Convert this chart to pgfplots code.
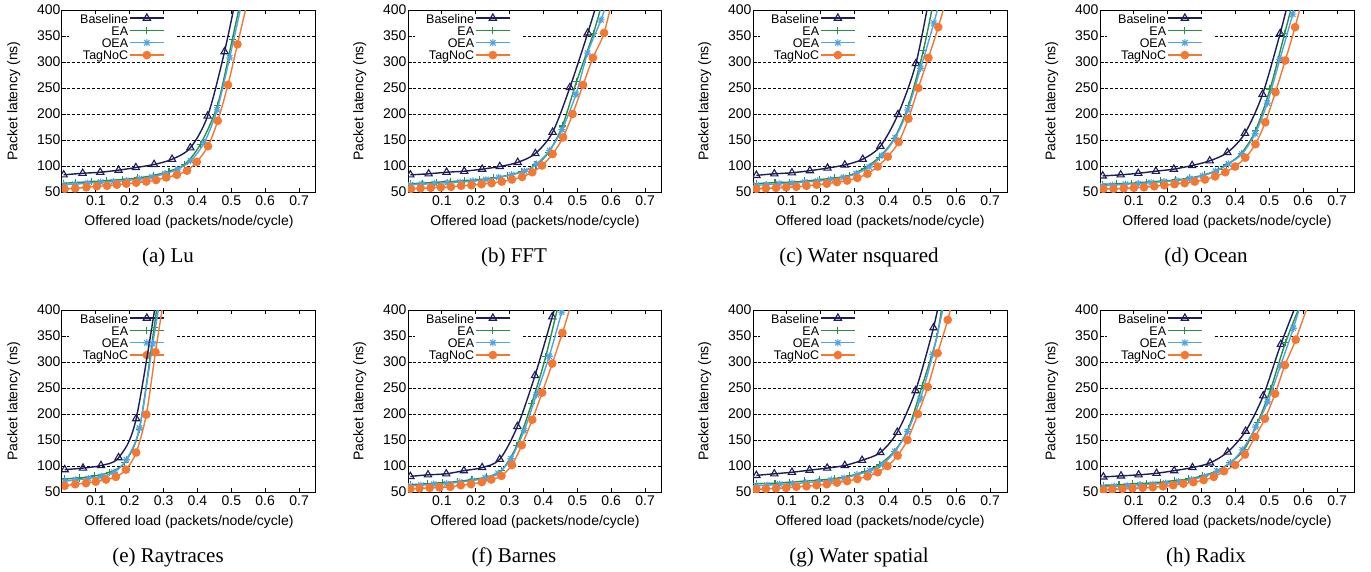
\documentclass[border=0pt]{standalone}
\usepackage{fontspec}
\setmainfont{Liberation Sans}
\newfontfamily\capfont{Liberation Serif}
\usepackage{pgfplots}
\pgfplotsset{compat=1.18}

\definecolor{cbase}{RGB}{28,28,88}
\definecolor{cea}{RGB}{38,145,70}
\definecolor{coea}{RGB}{80,165,225}
\definecolor{ctag}{RGB}{245,120,50}

\pgfdeclareplotmark{gpstar}{%
  \pgfpathmoveto{\pgfqpoint{-\pgfplotmarksize}{0pt}}\pgfpathlineto{\pgfqpoint{\pgfplotmarksize}{0pt}}%
  \pgfpathmoveto{\pgfqpoint{0pt}{-\pgfplotmarksize}}\pgfpathlineto{\pgfqpoint{0pt}{\pgfplotmarksize}}%
  \pgfpathmoveto{\pgfqpoint{-0.75\pgfplotmarksize}{-0.75\pgfplotmarksize}}\pgfpathlineto{\pgfqpoint{0.75\pgfplotmarksize}{0.75\pgfplotmarksize}}%
  \pgfpathmoveto{\pgfqpoint{-0.75\pgfplotmarksize}{0.75\pgfplotmarksize}}\pgfpathlineto{\pgfqpoint{0.75\pgfplotmarksize}{-0.75\pgfplotmarksize}}%
  \pgfusepathqstroke}

\pgfplotsset{
  layers/legendbelow/.define layer set={axis background,axis grid,axis descriptions,axis ticks,axis lines,axis tick labels,pre main,main,axis foreground}{/pgfplots/layers/standard},
  panel/.style={
    set layers=legendbelow,
    scale only axis, width=254pt, height=182pt,
    anchor=south west,
    xmin=0, xmax=0.75, ymin=50, ymax=400,
    xtick={0.1,0.2,0.3,0.4,0.5,0.6,0.7},
    ytick={50,100,150,200,250,300,350,400},
    tick align=inside, major tick length=4pt,
    /pgf/number format/assume math mode=true,
    xticklabel style={/pgf/number format/fixed, /pgf/number format/precision=1},
    yticklabel style={xshift=2pt},
    tick label style={font=\fontsize{14}{16}\selectfont},
    label style={font=\fontsize{14}{16}\selectfont},
    xlabel={Offered load (packets/node/cycle)},
    ylabel={Packet latency (ns)},
    xlabel style={at={(axis description cs:0.5,-0.165)}, anchor=center},
    ylabel style={at={(axis description cs:-0.19,0.5)}, anchor=center},
    ymajorgrids, grid style={black, dash pattern=on 3pt off 2pt, line width=0.6pt},
    axis line style={line width=1pt},
    tick style={black, line width=0.8pt},
    clip marker paths=true,
    legend cell align=right, legend plot pos=right,
    legend style={at={(0,1)}, anchor=north west, xshift=7pt, yshift=-1.5pt,
      draw=none, fill=white, inner xsep=10pt, inner ysep=0.3pt,
      font=\fontsize{12.5}{13}\selectfont,
      nodes={inner sep=1pt, text height=10pt, text depth=0.3pt}},
    legend image code/.code={\draw[mark repeat=2,mark phase=2,##1] plot coordinates {(0pt,0pt) (17pt,0pt) (34pt,0pt)};},
  },
  base/.style={cbase, line width=1.4pt, smooth, mark=triangle, mark size=4.2pt, mark options={solid, line width=1.1pt}},
  ea/.style={cea, line width=1.4pt, smooth, mark=+, mark size=3.6pt, mark options={solid, line width=1.1pt}},
  oea/.style={coea, line width=1.4pt, smooth, mark=gpstar, mark size=3.6pt, mark options={solid, line width=1.1pt}},
  tag/.style={ctag, line width=1.4pt, smooth, mark=*, mark size=3.6pt, mark options={solid, fill=ctag}},
}

\begin{document}
\begin{tikzpicture}

% (a) Lu
\begin{axis}[panel, at={(0pt,0pt)}]
\addplot[base] coordinates {(0.005,83)(0.061,86)(0.113,88)(0.167,92)(0.218,97)(0.272,103)(0.325,113)(0.379,135)(0.43,196)(0.48,320)(0.525,460)};
\addplot[ea] coordinates {(0.005,67)(0.04,68)(0.086,70)(0.132,72)(0.178,74)(0.224,77)(0.27,82)(0.316,90)(0.362,103)(0.408,141)(0.459,217)(0.503,344)(0.535,440)};
\addplot[oea] coordinates {(0.005,64)(0.038,65)(0.076,67)(0.114,69)(0.152,70)(0.19,72)(0.228,75)(0.266,79)(0.304,85)(0.342,94)(0.38,110)(0.42,145)(0.458,208)(0.495,308)(0.545,455)};
\addplot[tag] coordinates {(0.008,56)(0.039,57)(0.072,59)(0.103,61)(0.133,62)(0.162,64)(0.19,66)(0.219,68)(0.249,70)(0.278,73)(0.308,78)(0.339,83)(0.369,91)(0.398,108)(0.431,138)(0.46,187)(0.49,256)(0.518,334)(0.56,450)};
\legend{Baseline,EA,OEA,TagNoC}
\end{axis}

% (b) FFT
\begin{axis}[panel, at={(346pt,0pt)}]
\addplot[base] coordinates {(0.007,83)(0.061,85)(0.114,88)(0.166,90)(0.219,94)(0.271,99)(0.324,107)(0.376,124)(0.427,165)(0.478,251)(0.531,356)(0.57,440)};
\addplot[ea] coordinates {(0.007,66)(0.042,67)(0.084,69)(0.126,70)(0.168,72)(0.21,74)(0.252,77)(0.294,82)(0.336,89)(0.378,102)(0.415,126)(0.456,177)(0.498,263)(0.547,354)(0.58,430)};
\addplot[oea] coordinates {(0.007,64)(0.04,65)(0.078,66)(0.116,68)(0.154,69)(0.192,71)(0.23,74)(0.268,78)(0.306,83)(0.344,90)(0.38,104)(0.418,130)(0.455,170)(0.496,238)(0.53,317)(0.57,381)(0.6,440)};
\addplot[tag] coordinates {(0.009,56)(0.037,57)(0.067,58)(0.097,59)(0.127,60)(0.157,62)(0.187,63)(0.217,65)(0.247,67)(0.277,70)(0.307,74)(0.337,79)(0.367,88)(0.396,101)(0.427,123)(0.458,155)(0.486,200)(0.517,256)(0.546,308)(0.579,356)(0.61,440)};
\legend{Baseline,EA,OEA,TagNoC}
\end{axis}

% (c) Water nsquared
\begin{axis}[panel, at={(691pt,0pt)}]
\addplot[base] coordinates {(0.01,82)(0.063,85)(0.115,87)(0.168,91)(0.22,96)(0.271,102)(0.324,113)(0.376,138)(0.428,199)(0.481,297)(0.525,440)};
\addplot[ea] coordinates {(0.01,66)(0.065,68)(0.109,69)(0.153,71)(0.197,74)(0.241,77)(0.285,82)(0.329,96)(0.373,117)(0.417,153)(0.459,217)(0.503,322)(0.54,440)};
\addplot[oea] coordinates {(0.01,63)(0.039,64)(0.077,66)(0.115,67)(0.153,69)(0.191,71)(0.229,74)(0.267,78)(0.305,85)(0.343,98)(0.381,120)(0.42,154)(0.457,208)(0.495,288)(0.534,375)(0.56,440)};
\addplot[tag] coordinates {(0.01,56)(0.038,57)(0.068,58)(0.098,59)(0.128,60)(0.158,62)(0.188,64)(0.218,66)(0.248,69)(0.278,72)(0.308,77)(0.338,85)(0.368,99)(0.398,118)(0.43,146)(0.459,191)(0.488,250)(0.518,308)(0.547,367)(0.575,430)};
\legend{Baseline,EA,OEA,TagNoC}
\end{axis}

% (d) Ocean
\begin{axis}[panel, at={(1038pt,0pt)}]
\addplot[base] coordinates {(0.008,81)(0.061,83)(0.113,86)(0.165,90)(0.218,94)(0.272,101)(0.324,110)(0.376,126)(0.428,163)(0.48,238)(0.532,355)(0.565,440)};
\addplot[ea] coordinates {(0.008,65)(0.05,66)(0.093,67)(0.136,69)(0.179,71)(0.222,73)(0.265,77)(0.308,83)(0.35,93)(0.373,102)(0.417,124)(0.459,168)(0.502,248)(0.545,354)(0.575,430)};
\addplot[oea] coordinates {(0.008,62)(0.037,63)(0.075,65)(0.113,66)(0.151,68)(0.189,70)(0.227,72)(0.265,76)(0.303,81)(0.341,90)(0.379,104)(0.419,123)(0.458,162)(0.494,221)(0.531,305)(0.569,392)(0.59,450)};
\addplot[tag] coordinates {(0.01,56)(0.04,56)(0.07,57)(0.1,58)(0.13,59)(0.16,61)(0.19,63)(0.22,65)(0.25,67)(0.28,70)(0.31,74)(0.34,80)(0.37,88)(0.399,99)(0.429,116)(0.459,142)(0.488,184)(0.518,242)(0.547,303)(0.576,367)(0.605,440)};
\legend{Baseline,EA,OEA,TagNoC}
\end{axis}

% (e) Raytraces
\begin{axis}[panel, at={(0pt,-300pt)}]
\addplot[base] coordinates {(0.008,93)(0.062,96)(0.115,101)(0.167,116)(0.219,191)(0.29,470)};
\addplot[ea] coordinates {(0.008,75)(0.052,77)(0.096,81)(0.14,88)(0.184,106)(0.228,170)(0.272,366)(0.29,450)};
\addplot[oea] coordinates {(0.008,71)(0.04,73)(0.078,76)(0.116,80)(0.154,88)(0.19,112)(0.229,173)(0.268,335)(0.295,440)};
\addplot[tag] coordinates {(0.008,62)(0.039,65)(0.071,67)(0.1,70)(0.13,74)(0.159,79)(0.189,93)(0.219,126)(0.249,199)(0.276,319)(0.305,440)};
\legend{Baseline,EA,OEA,TagNoC}
\end{axis}

% (f) Barnes
\begin{axis}[panel, at={(346pt,-300pt)}]
\addplot[base] coordinates {(0.007,80)(0.059,83)(0.113,85)(0.165,91)(0.219,97)(0.271,113)(0.323,176)(0.375,274)(0.426,387)(0.45,440)};
\addplot[ea] coordinates {(0.007,64)(0.057,66)(0.101,68)(0.145,70)(0.189,74)(0.233,79)(0.277,92)(0.321,139)(0.365,220)(0.407,311)(0.451,430)};
\addplot[oea] coordinates {(0.007,62)(0.038,63)(0.076,65)(0.114,66)(0.152,69)(0.19,72)(0.228,77)(0.266,86)(0.304,114)(0.343,168)(0.379,237)(0.417,311)(0.454,396)(0.47,430)};
\addplot[tag] coordinates {(0.007,56)(0.034,57)(0.064,58)(0.093,59)(0.125,60)(0.156,63)(0.186,65)(0.218,69)(0.246,74)(0.276,81)(0.307,102)(0.336,140)(0.367,189)(0.396,241)(0.426,297)(0.456,356)(0.486,420)};
\legend{Baseline,EA,OEA,TagNoC}
\end{axis}

% (g) Water spatial
\begin{axis}[panel, at={(691pt,-300pt)}]
\addplot[base] coordinates {(0.01,82)(0.063,85)(0.115,88)(0.167,92)(0.219,96)(0.271,101)(0.322,111)(0.376,126)(0.426,165)(0.48,245)(0.533,366)(0.56,450)};
\addplot[ea] coordinates {(0.01,66)(0.065,67)(0.109,69)(0.153,71)(0.197,73)(0.241,76)(0.285,81)(0.329,89)(0.373,103)(0.417,128)(0.458,171)(0.5,255)(0.543,349)(0.565,440)};
\addplot[oea] coordinates {(0.01,62)(0.041,63)(0.079,65)(0.117,66)(0.155,68)(0.193,70)(0.231,73)(0.269,77)(0.307,83)(0.345,91)(0.383,103)(0.419,128)(0.456,166)(0.494,229)(0.531,315)(0.57,430)};
\addplot[tag] coordinates {(0.01,55)(0.038,56)(0.068,57)(0.098,58)(0.128,60)(0.158,61)(0.188,63)(0.218,65)(0.248,68)(0.278,71)(0.308,75)(0.338,80)(0.368,88)(0.397,100)(0.427,120)(0.456,150)(0.487,200)(0.516,252)(0.545,317)(0.575,381)(0.6,450)};
\legend{Baseline,EA,OEA,TagNoC}
\end{axis}

% (h) Radix
\begin{axis}[panel, at={(1038pt,-300pt)}]
\addplot[base] coordinates {(0.01,79)(0.062,81)(0.114,83)(0.167,86)(0.219,91)(0.273,97)(0.325,106)(0.377,127)(0.43,167)(0.482,235)(0.534,334)(0.6,445)};
\addplot[ea] coordinates {(0.01,63)(0.056,64)(0.097,66)(0.138,67)(0.179,69)(0.22,72)(0.261,75)(0.302,81)(0.343,90)(0.384,106)(0.426,132)(0.465,183)(0.504,248)(0.548,338)(0.61,440)};
\addplot[oea] coordinates {(0.01,60)(0.042,61)(0.08,62)(0.118,64)(0.156,65)(0.194,67)(0.232,70)(0.27,74)(0.308,80)(0.346,90)(0.384,106)(0.42,131)(0.46,175)(0.495,223)(0.533,293)(0.571,365)(0.61,450)};
\addplot[tag] coordinates {(0.01,54)(0.036,55)(0.066,56)(0.096,57)(0.126,58)(0.156,59)(0.186,61)(0.216,63)(0.246,66)(0.276,69)(0.306,73)(0.336,79)(0.366,90)(0.399,102)(0.428,122)(0.458,156)(0.487,191)(0.517,239)(0.546,294)(0.578,343)(0.63,440)};
\legend{Baseline,EA,OEA,TagNoC}
\end{axis}

\begin{scope}[every node/.style={font=\capfont\fontsize{21}{24}\selectfont}]
\node at (106pt,-65pt) {(a) Lu};
\node at (452pt,-65pt) {(b) FFT};
\node at (797pt,-65pt) {(c) Water nsquared};
\node at (1144pt,-65pt) {(d) Ocean};
\node at (106pt,-365pt) {(e) Raytraces};
\node at (452pt,-365pt) {(f) Barnes};
\node at (797pt,-365pt) {(g) Water spatial};
\node at (1144pt,-365pt) {(h) Radix};
\end{scope}
\path (-62pt,-379pt) rectangle (1309pt,192pt);
\end{tikzpicture}
\end{document}
